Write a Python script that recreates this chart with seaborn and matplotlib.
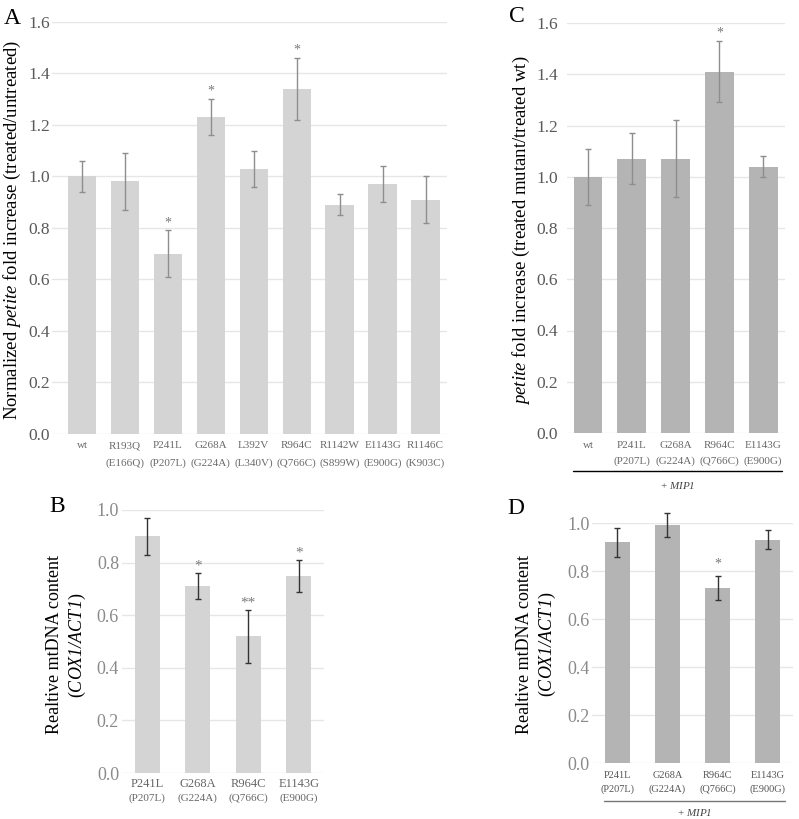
import matplotlib
matplotlib.use("Agg")
import matplotlib.pyplot as plt
import matplotlib.transforms as mtransforms
import seaborn as sns
import pandas as pd

sns.set_theme(style="white")
plt.rcParams['font.family'] = ['Liberation Serif', 'DejaVu Serif']
plt.rcParams['mathtext.fontset'] = 'custom'
plt.rcParams['mathtext.rm'] = 'Liberation Serif:italic'
plt.rcParams['mathtext.it'] = 'Liberation Serif:italic'

# ---------------- data ----------------
a_cats = ["wt", "R193Q", "P241L", "G268A", "L392V", "R964C", "R1142W", "E1143G", "R1146C"]
a_sub = ["", "(E166Q)", "(P207L)", "(G224A)", "(L340V)", "(Q766C)", "(S899W)", "(E900G)", "(K903C)"]
a_vals = [1.00, 0.98, 0.70, 1.23, 1.03, 1.34, 0.89, 0.97, 0.91]
a_errs = [0.06, 0.11, 0.09, 0.07, 0.07, 0.12, 0.04, 0.07, 0.09]
a_sig = ["", "", "*", "*", "", "*", "", "", ""]

c_cats = ["wt", "P241L", "G268A", "R964C", "E1143G"]
c_sub = ["", "(P207L)", "(G224A)", "(Q766C)", "(E900G)"]
c_vals = [1.00, 1.07, 1.07, 1.41, 1.04]
c_errs = [0.11, 0.10, 0.15, 0.12, 0.04]
c_sig = ["", "", "", "*", ""]

b_cats = ["P241L", "G268A", "R964C", "E1143G"]
b_sub = ["(P207L)", "(G224A)", "(Q766C)", "(E900G)"]
b_vals = [0.90, 0.71, 0.52, 0.75]
b_errs = [0.07, 0.05, 0.10, 0.06]
b_sig = ["", "*", "**", "*"]

d_cats = ["P241L", "G268A", "R964C", "E1143G"]
d_sub = ["(P207L)", "(G224A)", "(Q766C)", "(E900G)"]
d_vals = [0.92, 0.99, 0.73, 0.93]
d_errs = [0.06, 0.05, 0.05, 0.04]
d_sig = ["", "", "*", ""]

W, H = 799, 819
fig = plt.figure(figsize=(W / 100, H / 100), dpi=100)
PT = 100 / 72.0  # px per point


def px_axes(l, r, t, b):
    return fig.add_axes([l / W, 1 - b / H, (r - l) / W, (b - t) / H])


LIGHT = "#d4d4d4"
DARK = "#b4b4b4"
GRID = "#e6e6e6"


def panel(ax, cats, subs, vals, errs, sig, color, ecolor, ymax, width, xlim,
          ytick_size, ytick_color, ypad_px, xt_size, xpad_px, sub_size, sub_offset,
          xt_color, star_off, star_size):
    df = pd.DataFrame({"cat": cats, "val": vals})
    sns.barplot(data=df, x="cat", y="val", color=color, width=width,
                errorbar=None, ax=ax, saturation=1, edgecolor="none", zorder=2)
    eb = ax.errorbar(range(len(cats)), vals, yerr=errs, fmt="none", ecolor=ecolor,
                     elinewidth=1.0, capsize=2.5, capthick=1.0, zorder=3)
    for art in eb.lines[1] + eb.lines[2]:
        art.set_clip_on(False)
    ax.set_ylim(0, ymax)
    ax.set_xlim(*xlim)
    n = int(round(ymax / 0.2))
    ticks = [round(i * 0.2, 1) for i in range(n + 1)]
    ax.set_yticks(ticks)
    ax.set_yticklabels([f"{t:.1f}" for t in ticks], fontsize=ytick_size, color=ytick_color)
    ax.yaxis.grid(True, color=GRID, linewidth=1.0, zorder=0)
    ax.set_axisbelow(True)
    for s in ax.spines.values():
        s.set_visible(False)
    ax.tick_params(axis="x", length=0, pad=xpad_px / PT)
    ax.tick_params(axis="y", length=0, pad=ypad_px / PT)
    ax.set_xlabel("")
    ax.set_ylabel("")
    ax.set_xticks(range(len(cats)))
    ax.set_xticklabels(cats, fontsize=xt_size, color=xt_color)
    tr = mtransforms.blended_transform_factory(ax.transData, ax.transAxes)
    for i, s in enumerate(subs):
        if s:
            ax.text(i, sub_offset, s, transform=tr, ha="center", va="center",
                    fontsize=sub_size, color=xt_color)
    for i, s in enumerate(sig):
        if s:
            ax.text(i, vals[i] + errs[i] + star_off, s, ha="center", va="bottom",
                    fontsize=star_size, color="#7a7a7a")


# Panel A
axA = px_axes(52, 447, 21.7, 434)
panel(axA, a_cats, a_sub, a_vals, a_errs, a_sig, LIGHT, "#8e8e8e", 1.6, 0.66,
      (-0.7, 8.5), 12.5, "#5a5a5a", 2, 8, 7.5, 8, -0.0703, "#6a6a6a", 0.005, 10)

# Panel C
axC = px_axes(567, 785, 23, 433)
panel(axC, c_cats, c_sub, c_vals, c_errs, c_sig, DARK, "#8e8e8e", 1.6, 0.66,
      (-0.48, 4.5), 12.5, "#5a5a5a", 9, 8, 7.5, 8, -0.068, "#6a6a6a", 0.005, 10)
axC.plot([0.028, 0.986], [-0.092, -0.092], transform=axC.transAxes, color="black",
         lw=1.0, clip_on=False)
axC.text(0.507, -0.129, "+ $MIP1$", transform=axC.transAxes, ha="center",
         va="center", fontsize=8, color="#444444")

# Panel B
axB = px_axes(122, 324, 510, 773)
panel(axB, b_cats, b_sub, b_vals, b_errs, b_sig, LIGHT, "#333333", 1.0, 0.5,
      (-0.5, 3.5), 13, "#8a8a8a", 3, 9, 5, 8, -0.095, "#666666", 0.003, 11)

# Panel D
axD = px_axes(592, 793, 523, 763)
panel(axD, d_cats, d_sub, d_vals, d_errs, d_sig, DARK, "#333333", 1.0, 0.5,
      (-0.5, 3.5), 13, "#8a8a8a", 2, 7.5, 8, 7.5, -0.108, "#555555", 0.02, 10)
axD.plot([0.06, 0.96], [-0.158, -0.158], transform=axD.transAxes, color="#777777",
         lw=1.0, clip_on=False)
axD.text(0.51, -0.205, "+ $MIP1$", transform=axD.transAxes, ha="center",
         va="center", fontsize=8, color="#444444")

# Y labels
fig.text(12 / W, 1 - 230 / H, "Normalized $petite$ fold increase (treated/untreated)",
         rotation=90, ha="center", va="center", fontsize=13.5, color="black")
fig.text(521 / W, 1 - 230 / H, "$petite$ fold increase (treated mutant/treated wt)",
         rotation=90, ha="center", va="center", fontsize=13.5, color="black")
fig.text(67 / W, 1 - 645 / H, "Realtive mtDNA content\n($COX1/ACT1$)",
         rotation=90, ha="center", va="center", fontsize=13, color="black",
         multialignment="center", linespacing=1.3)
fig.text(537 / W, 1 - 644 / H, "Realtive mtDNA content\n($COX1/ACT1$)",
         rotation=90, ha="center", va="center", fontsize=13, color="black",
         multialignment="center", linespacing=1.3)

# Panel letters
for lab, x, y in [("A", 12, 19), ("C", 517, 17), ("B", 57, 507), ("D", 516, 508)]:
    fig.text(x / W, 1 - y / H, lab, ha="center", va="center", fontsize=17, color="black")

fig.savefig("out.png", dpi=100, facecolor="white")
